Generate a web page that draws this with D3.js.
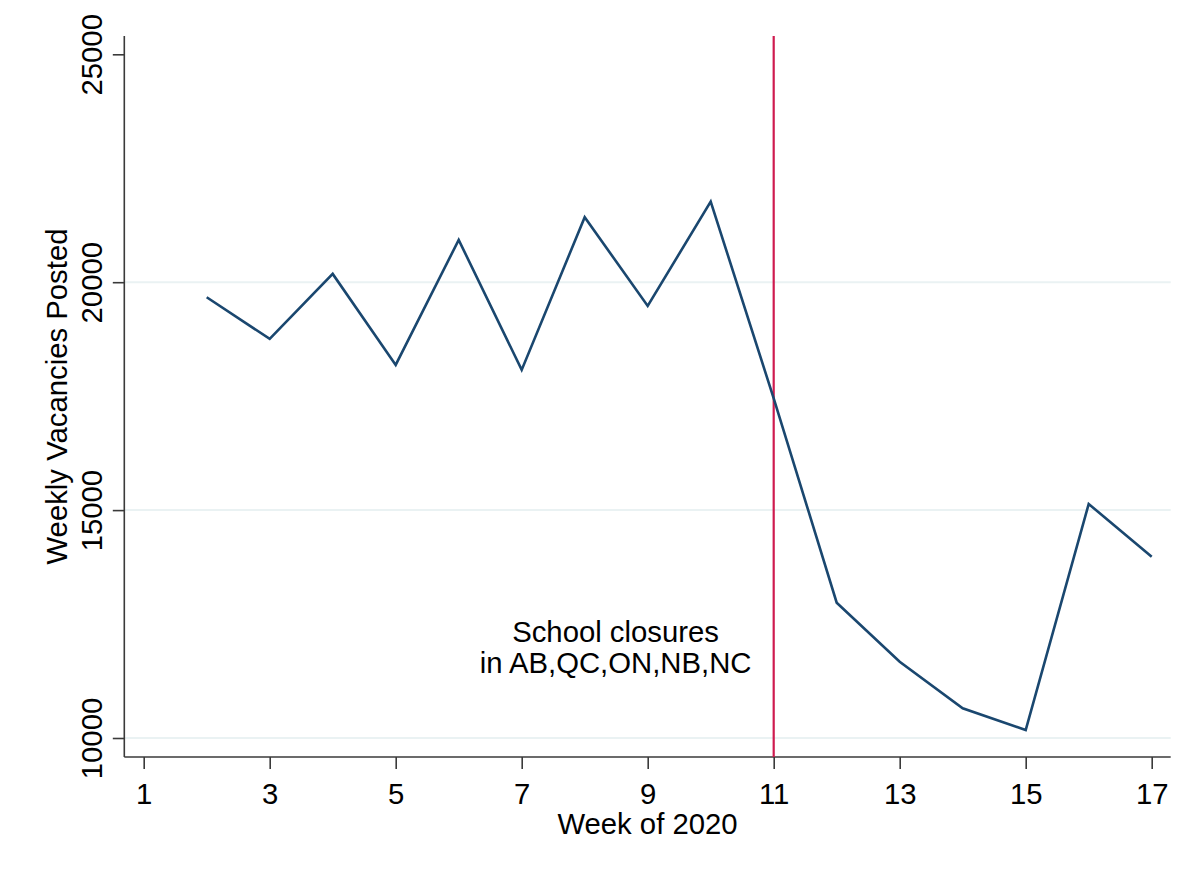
<!DOCTYPE html>
<html>
<head>
<meta charset="utf-8">
<script src="https://cdn.jsdelivr.net/npm/d3@7/dist/d3.min.js"></script>
<style>
html,body{margin:0;padding:0;background:#fff;}
svg{display:block;}
text{font-family:"Liberation Sans",Arial,sans-serif;fill:#000;}
</style>
</head>
<body>
<svg id="chart" width="1194" height="872"></svg>
<script>
// ---- data ----
const weeks = [2,3,4,5,6,7,8,9,10,11,12,13,14,15,16,17];
const vacancies = [19670,18756,20182,18186,20928,18076,21426,19480,21768,17453,12969,11674,10652,10176,15134,13978];
const xTicks = [1,3,5,7,9,11,13,15,17];
const yTicks = [10000,15000,20000,25000];
const eventWeek = [11];
const annotationLines = ["School closures","in AB,QC,ON,NB,NC"];
const annotationWeek = [8.49];
const annotationValues = [12113,11433];
const xTitle = "Week of 2020";
const yTitle = "Weekly Vacancies Posted";

// ---- layout ----
const svg = d3.select("#chart");
const plotLeft = 124.3, plotRight = 1170.7, plotTop = 36, plotBottom = 757;
const x = d3.scaleLinear().domain([1,17]).range([143.7,1151.7]);
const y = d3.scaleLinear().domain([10000,25000]).range([738,54.3]);
const fontSize = 29.3;
const axisColor = "#3a3a3a";

// grid lines
svg.append("g").selectAll("line").data(yTicks.filter(d => d < 25000)).join("line")
  .attr("x1", plotLeft).attr("x2", plotRight)
  .attr("y1", d => y(d)).attr("y2", d => y(d))
  .attr("stroke", "#eaf2f3").attr("stroke-width", 2);

// y axis
const yAxisG = svg.append("g").attr("transform", `translate(${plotLeft},0)`)
  .call(d3.axisLeft(y).tickValues(yTicks).tickSize(11.5).tickSizeOuter(0).tickFormat(d3.format("d")));
yAxisG.select(".domain").remove();
yAxisG.selectAll(".tick line").attr("stroke", axisColor).attr("stroke-width", 1.6);
yAxisG.selectAll(".tick text")
  .attr("x", null).attr("dy", null)
  .attr("transform", "translate(-22.6,0) rotate(-90)")
  .attr("text-anchor", "middle")
  .style("font-size", fontSize + "px")
  .style("font-family", "'Liberation Sans', Arial, sans-serif")
  .attr("fill", "#000");
svg.append("line").attr("x1", plotLeft).attr("x2", plotLeft)
  .attr("y1", plotTop).attr("y2", plotBottom)
  .attr("stroke", axisColor).attr("stroke-width", 1.6);

// x axis
const xAxisG = svg.append("g").attr("transform", `translate(0,${plotBottom})`)
  .call(d3.axisBottom(x).tickValues(xTicks).tickSize(12).tickSizeOuter(0).tickFormat(d3.format("d")));
xAxisG.select(".domain").remove();
xAxisG.selectAll(".tick line").attr("stroke", axisColor).attr("stroke-width", 1.6);
xAxisG.selectAll(".tick text")
  .attr("y", 47).attr("dy", null)
  .style("font-size", fontSize + "px")
  .style("font-family", "'Liberation Sans', Arial, sans-serif")
  .attr("fill", "#000");
svg.append("line").attr("x1", plotLeft).attr("x2", plotRight)
  .attr("y1", plotBottom).attr("y2", plotBottom)
  .attr("stroke", axisColor).attr("stroke-width", 1.6);

// event line
svg.append("g").selectAll("line").data(eventWeek).join("line")
  .attr("x1", d => x(d)).attr("x2", d => x(d))
  .attr("y1", plotTop).attr("y2", plotBottom)
  .attr("stroke", "#cf1b4f").attr("stroke-width", 2.2);

// data line
const line = d3.line().x((d,i) => x(weeks[i])).y(d => y(d));
svg.append("path").datum(vacancies)
  .attr("d", line)
  .attr("fill", "none")
  .attr("stroke", "#1a476f")
  .attr("stroke-width", 2.6)
  .attr("stroke-linejoin", "miter");

// annotation
svg.append("g").selectAll("text").data(annotationLines).join("text")
  .attr("x", x(annotationWeek[0]))
  .attr("y", (d,i) => y(annotationValues[i]))
  .attr("text-anchor", "middle")
  .style("font-size", fontSize + "px")
  .text(d => d);

// axis titles
svg.append("text")
  .attr("x", (plotLeft + plotRight) / 2).attr("y", 834.3)
  .attr("text-anchor", "middle")
  .style("font-size", fontSize + "px")
  .text(xTitle);
svg.append("text")
  .attr("transform", `translate(67,${(plotTop + plotBottom) / 2}) rotate(-90)`)
  .attr("text-anchor", "middle")
  .style("font-size", fontSize + "px")
  .text(yTitle);
</script>
</body>
</html>
